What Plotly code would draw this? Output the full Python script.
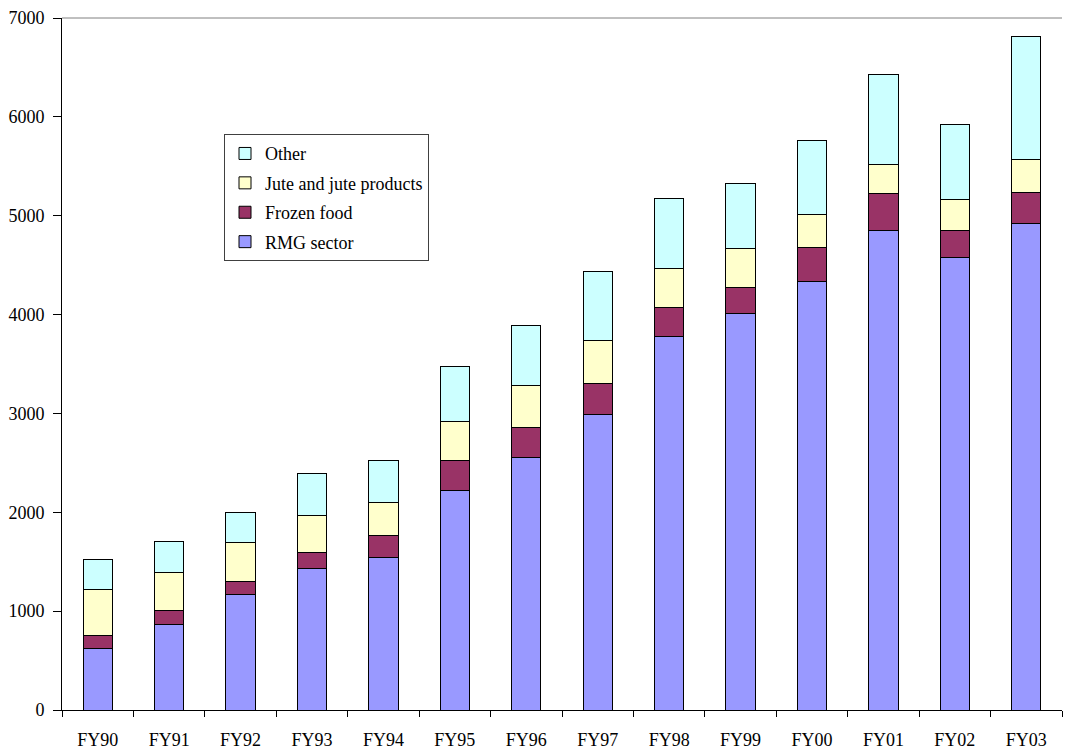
import plotly.graph_objects as go

years = ["FY90", "FY91", "FY92", "FY93", "FY94", "FY95", "FY96",
         "FY97", "FY98", "FY99", "FY00", "FY01", "FY02", "FY03"]

rmg_sector = [624, 860, 1171, 1427, 1543, 2221, 2550,
              2985, 3778, 4011, 4335, 4852, 4581, 4920]
frozen_food = [131, 150, 130, 169, 218, 304, 309,
               319, 296, 266, 343, 373, 271, 319]
jute_products = [459, 383, 397, 373, 334, 397, 421,
                 436, 396, 387, 334, 295, 310, 329]
other = [310, 315, 295, 421, 430, 552, 605,
         692, 707, 663, 750, 905, 764, 1244]

series = [
    ("RMG sector", rmg_sector, "#9999FF"),
    ("Frozen food", frozen_food, "#993366"),
    ("Jute and jute products", jute_products, "#FFFFCC"),
    ("Other", other, "#CCFFFF"),
]

fig = go.Figure()
for i, (name, values, color) in enumerate(series):
    fig.add_trace(
        go.Bar(
            x=years,
            y=values,
            name=name,
            legendgroup=name,  # separate groups so tracegroupgap spaces the rows
            legendrank=len(series) - i,  # top of the stack listed first
            marker=dict(color=color, line=dict(color="black", width=1)),
        )
    )

font = dict(family="Liberation Serif, Times New Roman, serif", size=18, color="black")

# page body has an 8px margin, so margins are offset by that amount
fig.update_layout(
    barmode="stack",
    bargap=0.59,
    width=1076,
    height=749,
    margin=dict(l=54, r=22, t=10, b=47),
    plot_bgcolor="white",
    paper_bgcolor="white",
    font=font,
    showlegend=True,
    legend=dict(
        traceorder="grouped",
        x=0.162,
        y=0.832,
        xanchor="left",
        yanchor="top",
        bgcolor="white",
        bordercolor="#404040",
        borderwidth=1,
        font=dict(size=18),
        itemwidth=30,
        tracegroupgap=3,
    ),
    xaxis=dict(
        showline=True,
        linecolor="black",
        linewidth=1,
        ticks="outside",
        tickson="boundaries",
        ticklen=6,
        tickcolor="black",
        ticklabelstandoff=13,
        showgrid=False,
        automargin=False,
    ),
    yaxis=dict(
        range=[0, 7000],
        dtick=1000,
        showline=True,
        linecolor="black",
        linewidth=1,
        ticks="outside",
        ticklen=8,
        tickcolor="black",
        ticklabelstandoff=5,
        showgrid=False,
        zeroline=False,
        automargin=False,
    ),
)

# thin grey frame line along the top of the plot area
fig.add_shape(type="line", xref="paper", yref="paper", x0=0, x1=1, y0=1, y1=1,
              line=dict(color="#808080", width=1))

fig.write_html("out.html")
